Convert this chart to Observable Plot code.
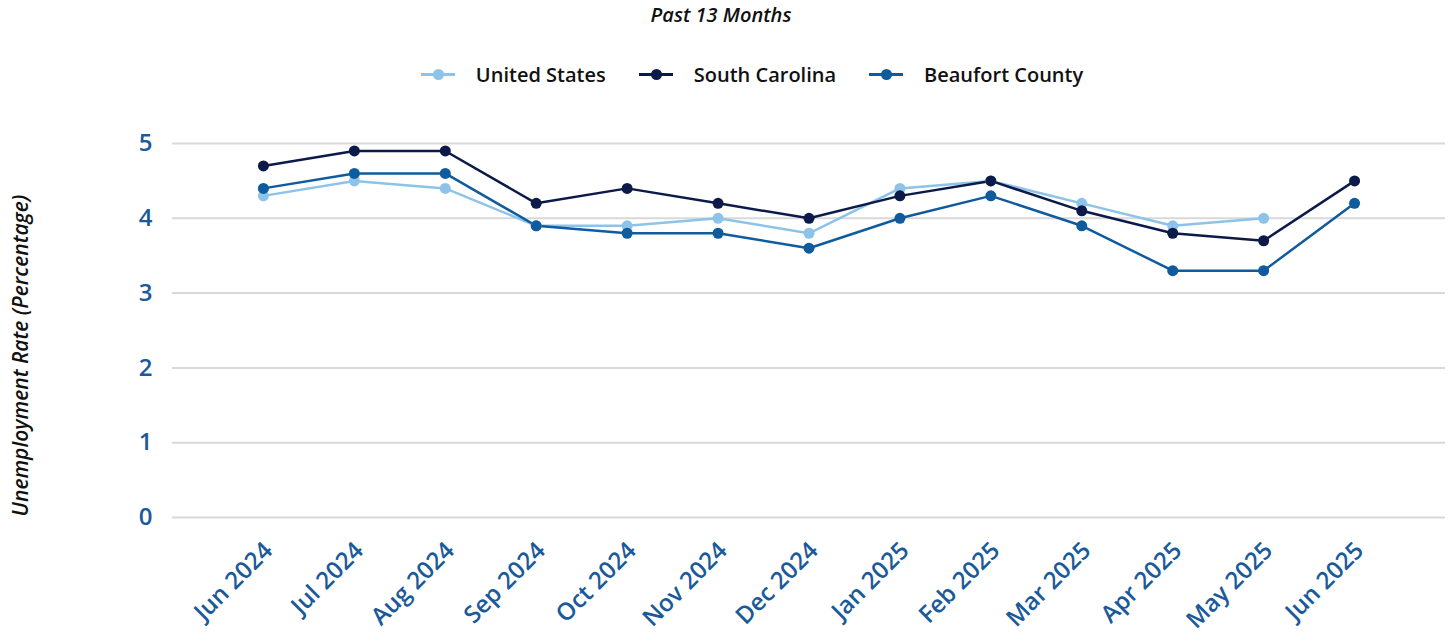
<!DOCTYPE html>
<html>
<head>
<meta charset="utf-8">
<script src="https://cdn.jsdelivr.net/npm/d3@7"></script>
<script src="https://cdn.jsdelivr.net/npm/@observablehq/plot@0.6"></script>
<style>
  html, body { margin: 0; padding: 0; background: #fff; }
  body { width: 1450px; height: 643px; overflow: hidden; font-family: "Open Sans", "Noto Sans", sans-serif; }
  #title { position: absolute; top: 1px; left: -4px; width: 1450px; text-align: center; font-style: italic; font-weight: 600; font-size: 20px; color: #111; }
  #legend { position: absolute; top: 60px; left: 27px; width: 1450px; display: flex; justify-content: center; gap: 33px; font-size: 20px; font-weight: 600; color: #111; }
  .item { display: flex; align-items: center; gap: 21px; }
  .sw { position: relative; width: 34px; height: 28px; }
  .sw .ln { position: absolute; left: 0; right: 0; top: 13px; height: 3px; }
  .sw .dt { position: absolute; left: 12px; top: 9px; width: 11px; height: 11px; border-radius: 50%; }
  #chart { position: absolute; top: 100px; left: 0; }
</style>
</head>
<body>
<div id="title">Past 13 Months</div>
<div id="legend"></div>
<div id="chart"></div>
<script>
const months = ["Jun 2024","Jul 2024","Aug 2024","Sep 2024","Oct 2024","Nov 2024","Dec 2024","Jan 2025","Feb 2025","Mar 2025","Apr 2025","May 2025","Jun 2025"];
const seriesNames = ["United States","South Carolina","Beaufort County"];
const seriesColors = ["#8dc3e8","#0c1a4a","#0f5b9e"];
const usRate = [4.3,4.5,4.4,3.9,3.9,4.0,3.8,4.4,4.5,4.2,3.9,4.0,null];
const scRate = [4.7,4.9,4.9,4.2,4.4,4.2,4.0,4.3,4.5,4.1,3.8,3.7,4.5];
const beaufortRate = [4.4,4.6,4.6,3.9,3.8,3.8,3.6,4.0,4.3,3.9,3.3,3.3,4.2];
const yTicks = [0,1,2,3,4,5];
const yLabel = "Unemployment Rate (Percentage)";

const rows = [];
[usRate, scRate, beaufortRate].forEach((arr, i) => {
  arr.forEach((v, j) => rows.push({series: seriesNames[i], month: months[j], value: v}));
});

// legend
const legend = document.getElementById("legend");
seriesNames.forEach((n, i) => {
  const it = document.createElement("div");
  it.className = "item";
  it.innerHTML = `<div class="sw"><div class="ln" style="background:${seriesColors[i]}"></div><div class="dt" style="background:${seriesColors[i]}"></div></div><span>${n}</span>`;
  legend.appendChild(it);
});

const tickColor = "#1a5a9a";
const chart = Plot.plot({
  width: 1450,
  height: 543,
  marginTop: 43,
  marginBottom: 126,
  marginLeft: 172,
  marginRight: 5,
  style: {fontFamily: "'Open Sans', 'Noto Sans', sans-serif", background: "transparent", overflow: "visible"},
  x: {type: "point", domain: months, padding: 1, round: false},
  y: {domain: [0, 5]},
  color: {domain: seriesNames, range: seriesColors},
  marks: [
    Plot.ruleY(yTicks, {stroke: "#d9d9d9", strokeWidth: 2}),
    Plot.axisY({ticks: yTicks, tickFormat: "d", tickSize: 0, tickPadding: 20, fill: tickColor, fontSize: 24, fontWeight: 600, label: null}),
    Plot.axisX({tickSize: 0, tickPadding: 29, tickRotate: -45, dx: 5, fill: tickColor, fontSize: 24, fontWeight: 600, label: null}),
    Plot.text([yLabel], {frameAnchor: "left", textAnchor: "middle", rotate: -90, dx: -151, dy: 25, fontSize: 21, fontStyle: "italic", fontWeight: 600, fill: "#111"}),
    Plot.line(rows.filter(d => d.value != null), {x: "month", y: "value", z: "series", stroke: "series", strokeWidth: 2.5}),
    Plot.dot(rows.filter(d => d.value != null), {x: "month", y: "value", fill: "series", r: 5.5})
  ]
});
document.getElementById("chart").appendChild(chart);
</script>
</body>
</html>
